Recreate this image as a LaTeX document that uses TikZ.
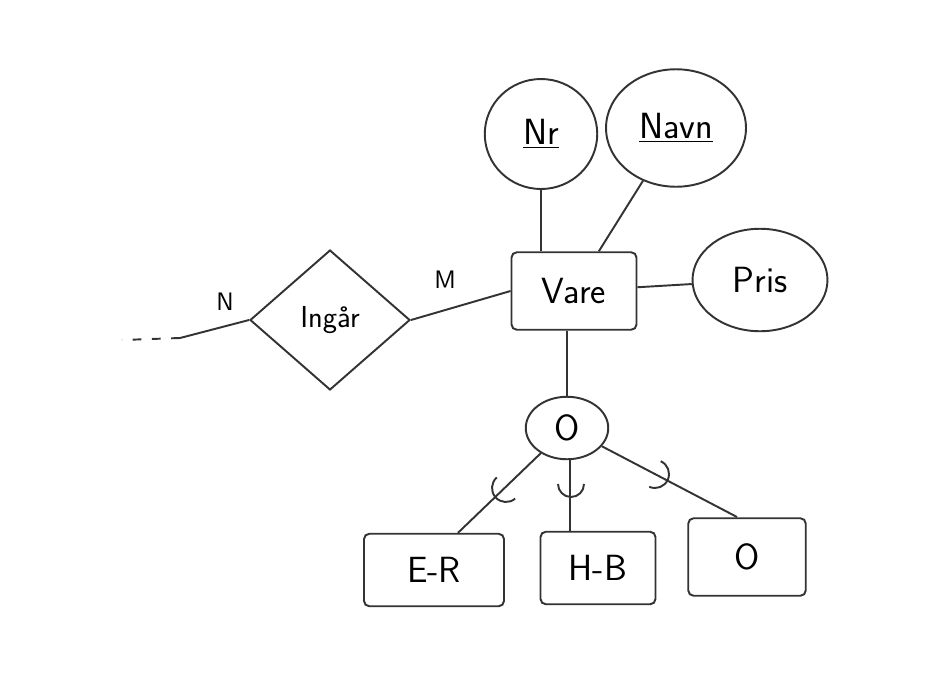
\documentclass[tikz,border=0pt]{standalone}
\usetikzlibrary{shapes.geometric,calc}
\tikzset{
  ink/.style={draw=black!80, line width=1.1pt},
  entity/.style={ink, rounded corners=3pt, minimum width=2.4cm, minimum height=1.45cm, font=\huge\sffamily},
  attrib/.style={ink, ellipse, font=\huge\sffamily},
  relation/.style={ink, diamond, minimum width=3.2cm, minimum height=2.8cm, font=\LARGE\sffamily},
}
\begin{document}
\begin{tikzpicture}[x=0.02cm, y=-0.02cm]
    \useasboundingbox (0,0) rectangle (950,684);
    % entity and its attributes
    \node[entity, minimum width=2.5cm, minimum height=1.55cm] (vare) at (574,291) {Vare};
    \node[attrib, minimum width=2.25cm, minimum height=2.2cm] (nr) at (541,134) {\underline{Nr}};
    \node[attrib, minimum width=2.8cm, minimum height=2.35cm] (navn) at (676,128) {\underline{Navn}};
    \node[attrib, minimum width=2.7cm, minimum height=2.05cm] (pris) at (760,280) {Pris};
    \draw[ink] (nr) -- (vare.north west -| nr);
    \draw[ink] (navn) -- (vare);
    \draw[ink] (pris) -- (vare);

    % relationship
    \node[relation] (ingar) at (330,320) {Ingår};
    \coordinate (free) at (180,338);
    \draw[ink] (ingar.west) -- (free);
    \draw[ink, dash pattern=on 5pt off 6pt] (free) -- (122,340);
    \draw[ink] (ingar.east) -- (vare.west);
    \node[font=\Large\sffamily] (n) at (225,302) {N};
    \node[font=\Large\sffamily] (m) at (445,280) {M};

    % specialisation
    \node[attrib, minimum width=1.65cm, minimum height=1.25cm] (disj) at (567,428) {O};
    \draw[ink] (vare.south -| disj) -- (disj);
    \node[entity, minimum width=2.8cm] (er) at (434,570) {E-R};
    \node[entity, minimum width=2.3cm] (hb) at (598,568) {H-B};
    \node[entity, minimum width=2.35cm, minimum height=1.55cm] (o) at (747,557) {O};
    \draw[ink] (disj) -- (er.north -| 458,0);
    \draw[ink] (disj.south -| 570,0) -- (hb.north -| 570,0);
    \draw[ink] (disj) -- (737,517);

    % subset marks
    \draw[ink] ($(506,488)+(49:14)$) arc[start angle=49, end angle=229, radius=14];
    \draw[ink] ($(571,484)+(0:13)$) arc[start angle=0, end angle=180, radius=13];
    \draw[ink] ($(655,474)+(-66:14)$) arc[start angle=-66, end angle=114, radius=14];
\end{tikzpicture}
\end{document}
